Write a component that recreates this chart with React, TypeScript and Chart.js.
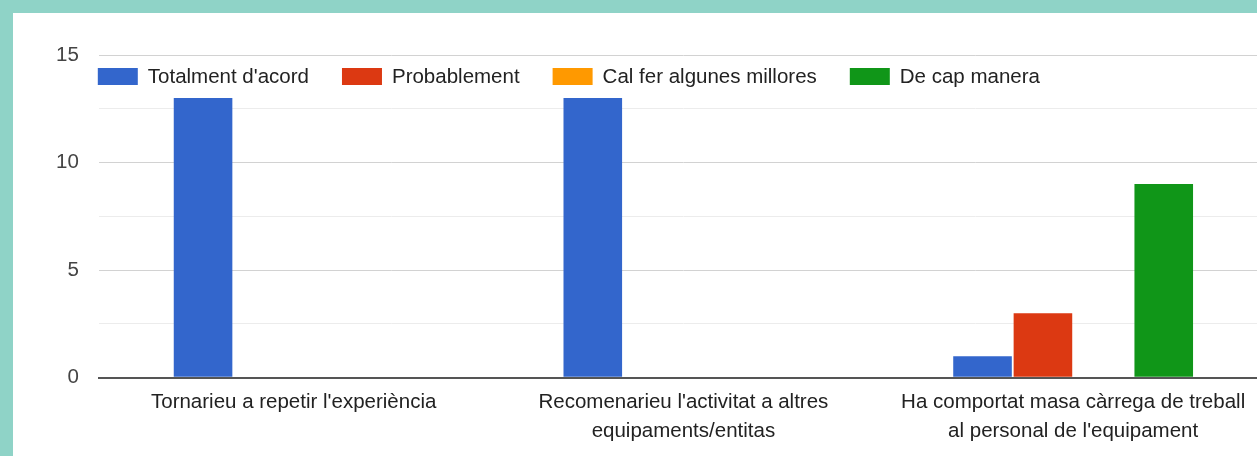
import React, { useEffect, useRef } from 'react';
import { Chart, registerables } from 'chart.js';

Chart.register(...registerables);

const categories: string[][] = [
  ["Tornarieu a repetir l'experiència"],
  ["Recomenarieu l'activitat a altres", 'equipaments/entitas'],
  ["Ha comportat masa càrrega de treball", "al personal de l'equipament"],
];
const seriesNames = ["Totalment d'acord", 'Probablement', 'Cal fer algunes millores', 'De cap manera'];
const totalmentDacord = [13, 13, 1];
const probablement = [0, 0, 3];
const calFerMillores = [0, 0, 0];
const deCapManera = [0, 0, 9];
const seriesColors = ['#3366cc', '#dc3912', '#ff9900', '#109618'];
const yMin = 0;
const yMax = 15;
const yLabelStep = 5;
const yGridStep = 2.5;

const FONT = '"Liberation Sans", Arial, sans-serif';
const FONT_SIZE = 20.5;

const insideLegend = {
  id: 'insideLegend',
  afterDraw(chart: any) {
    const { ctx, chartArea } = chart;
    ctx.save();
    ctx.font = `${FONT_SIZE}px ${FONT}`;
    ctx.textBaseline = 'middle';
    ctx.textAlign = 'left';
    let x = chartArea.left - 1;
    const boxTop = chartArea.top + 13;
    chart.data.datasets.forEach((ds: any) => {
      ctx.fillStyle = ds.backgroundColor;
      ctx.fillRect(x, boxTop, 40, 17);
      ctx.fillStyle = '#222222';
      ctx.fillText(ds.label, x + 50, boxTop + 9);
      x += 50 + ctx.measureText(ds.label).width + 33;
    });
    ctx.restore();
  },
};

export default function App() {
  const canvasRef = useRef<HTMLCanvasElement | null>(null);

  useEffect(() => {
    if (!canvasRef.current) return;
    const values = [totalmentDacord, probablement, calFerMillores, deCapManera];
    const chart = new Chart(canvasRef.current, {
      type: 'bar',
      data: {
        labels: categories,
        datasets: seriesNames.map((name, i) => ({
          label: name,
          data: values[i],
          backgroundColor: seriesColors[i],
          borderWidth: 0,
          categoryPercentage: 0.62,
          barPercentage: 0.97,
        })),
      },
      options: {
        responsive: true,
        maintainAspectRatio: false,
        animation: false,
        layout: { padding: { left: 23, top: 42, right: 1, bottom: 0 } },
        plugins: {
          legend: { display: false },
          tooltip: { enabled: false },
        },
        scales: {
          x: {
            grid: { display: false, drawTicks: false },
            border: { display: true, color: '#555555', width: 2 },
            ticks: {
              color: '#222222',
              font: { family: FONT, size: FONT_SIZE, lineHeight: 1.42 },
              padding: 10,
              maxRotation: 0,
              autoSkip: false,
            },
          },
          y: {
            min: yMin,
            max: yMax,
            grid: {
              drawTicks: false,
              color: (c: any) =>
                c.tick && c.tick.value === 0
                  ? '#555555'
                  : c.tick && c.tick.value % yLabelStep === 0
                  ? '#d2d2d2'
                  : '#ececec',
              lineWidth: (c: any) => (c.tick && c.tick.value === 0 ? 2 : 1),
            },
            border: { display: false },
            ticks: {
              stepSize: yGridStep,
              color: '#444444',
              font: { family: FONT, size: FONT_SIZE },
              padding: 20,
              callback: (v: any) => (Number(v) % yLabelStep === 0 ? String(v) : ''),
            },
          },
        },
      },
      plugins: [insideLegend],
    });
    return () => chart.destroy();
  }, []);

  return (
    <div
      style={{
        position: 'fixed',
        left: 0,
        top: 0,
        width: 1257,
        height: 456,
        overflow: 'hidden',
        background: '#8fd3c7',
      }}
    >
      <div
        style={{
          position: 'absolute',
          left: 13,
          top: 13,
          width: 1260,
          height: 443,
          background: '#ffffff',
        }}
      >
        <div style={{ position: 'relative', width: 1256, height: 443 }}>
          <canvas ref={canvasRef} />
        </div>
      </div>
    </div>
  );
}
